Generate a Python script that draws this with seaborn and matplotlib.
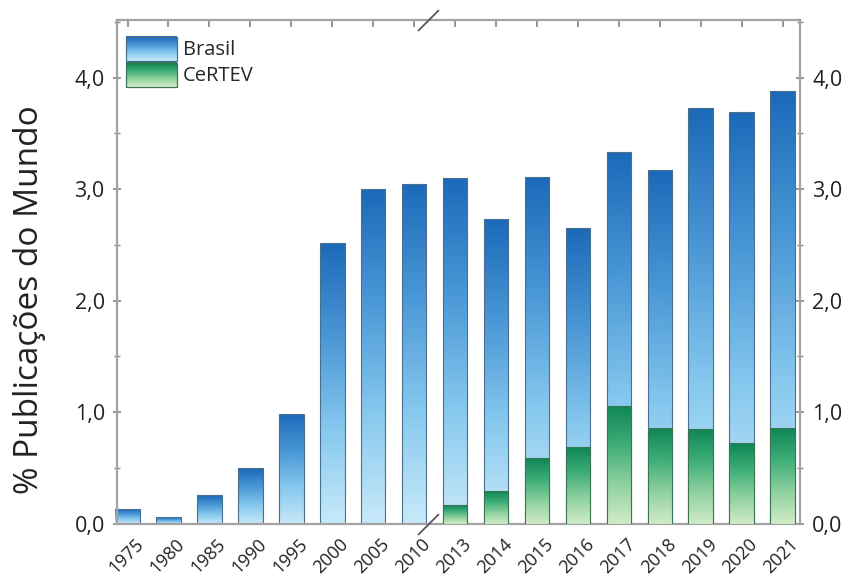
import numpy as np
import pandas as pd
import matplotlib
matplotlib.use('Agg')
import matplotlib.pyplot as plt
import matplotlib.transforms as mtransforms
import seaborn as sns
from matplotlib.colors import LinearSegmentedColormap
from matplotlib.patches import Rectangle
from matplotlib.legend_handler import HandlerBase
from matplotlib.ticker import FuncFormatter, MultipleLocator

# values
years = ['1975', '1980', '1985', '1990', '1995', '2000', '2005', '2010',
         '2013', '2014', '2015', '2016', '2017', '2018', '2019', '2020', '2021']
brasil = [0.13, 0.06, 0.26, 0.50, 0.98, 2.52, 3.00, 3.05,
          3.10, 2.73, 3.11, 2.65, 3.33, 3.17, 3.73, 3.69, 3.88]
certev_years = ['2013', '2014', '2015', '2016', '2017', '2018', '2019', '2020', '2021']
certev = [0.17, 0.29, 0.59, 0.69, 1.06, 0.86, 0.85, 0.72, 0.86]

sns.set_theme(style='white')
plt.rcParams['font.family'] = ['Open Sans', 'DejaVu Sans']

blue_cmap = LinearSegmentedColormap.from_list('azul', ['#c8eaf9', '#86c8ee', '#4a97d6', '#1c69b9'])
green_cmap = LinearSegmentedColormap.from_list('verde', ['#d2ecc8', '#8fd19f', '#3fae78', '#0f8656'])

fig = plt.figure(figsize=(8.5, 5.8), dpi=100)
ax = fig.add_axes([0.138, 0.097, 0.803, 0.869])

df_b = pd.DataFrame({'ano': years, 'valor': brasil})
df_c = pd.DataFrame({'ano': certev_years, 'valor': certev})

sns.barplot(data=df_b, x='ano', y='valor', order=years, width=0.6,
            color='#1c69b9', ax=ax)
n_b = len(ax.patches)
sns.barplot(data=df_c, x='ano', y='valor', order=years, width=0.6,
            color='#0f8656', ax=ax)

grad = np.linspace(0, 1, 256).reshape(-1, 1)


def paint(patch, cmap, edge, z):
    x0, y0 = patch.get_x(), patch.get_y()
    w, h = patch.get_width(), patch.get_height()
    patch.set_facecolor('none')
    patch.set_edgecolor(edge)
    patch.set_linewidth(0.8)
    patch.set_zorder(z + 0.1)
    im = ax.imshow(grad, cmap=cmap, origin='lower', aspect='auto',
                   extent=[x0, x0 + w, y0, y0 + h], zorder=z,
                   interpolation='bilinear')
    im.set_clip_path(patch)


for i, p in enumerate(list(ax.patches)):
    if i < n_b:
        paint(p, blue_cmap, '#4a6f8f', 2)
    else:
        paint(p, green_cmap, '#3a7556', 3)

ax.set_xlim(-0.25, 16.42)
ax.set_ylim(0, 4.52)

# axes styling
for s in ax.spines.values():
    s.set_color('#a3a3a3')
    s.set_linewidth(1.6)

ax.yaxis.set_major_locator(MultipleLocator(1.0))
ax.yaxis.set_minor_locator(MultipleLocator(0.5))
ax.yaxis.set_major_formatter(FuncFormatter(lambda v, p: f'{v:.1f}'.replace('.', ',')))
ax.tick_params(axis='y', which='both', left=True, right=True, labelright=True,
               direction='inout', color='#8a8a8a', labelsize=15.5, labelcolor='#222222')
ax.tick_params(axis='y', which='major', length=6, pad=6)
ax.tick_params(axis='y', which='minor', length=4)
ax.tick_params(axis='x', bottom=True, top=True, direction='in', length=5,
               color='#8a8a8a', labelsize=13, labelcolor='#222222', pad=8)
ax.set_xticks(range(len(years)))
ax.set_xticklabels(years, rotation=45, ha='right', rotation_mode='anchor')
shift = mtransforms.ScaledTranslation(7 / 100, 0, fig.dpi_scale_trans)
for lab in ax.get_xticklabels():
    lab.set_transform(lab.get_transform() + shift)
ax.set_xlabel('')
ax.set_ylabel('% Publicações do Mundo', fontsize=24, color='#222222')
ax.yaxis.set_label_coords(-0.105, 0.444)

# axis break marks
for yb in (0, 1):
    ax.plot([7.35], [yb], marker=[(-1, -1), (1, 1)], markersize=15,
            markeredgewidth=1.3, color='#555555', linestyle='none',
            transform=ax.get_xaxis_transform(), clip_on=False, zorder=6)


class GradHandler(HandlerBase):
    def __init__(self, cmap, edge):
        super().__init__()
        self.cmap = cmap
        self.edge = edge

    def create_artists(self, legend, orig_handle, xdescent, ydescent,
                       width, height, fontsize, trans):
        arts = []
        n = 40
        for k in range(n):
            r = Rectangle((-xdescent, -ydescent + height * k / n), width, height / n + 0.3,
                          facecolor=self.cmap(k / (n - 1)), edgecolor='none',
                          transform=trans)
            arts.append(r)
        arts.append(Rectangle((-xdescent, -ydescent), width, height,
                              facecolor='none', edgecolor=self.edge, linewidth=0.9,
                              transform=trans))
        return arts


h1 = Rectangle((0, 0), 1, 1)
h2 = Rectangle((0, 0), 1, 1)
ax.legend([h1, h2], ['Brasil', 'CeRTEV'],
          handler_map={h1: GradHandler(blue_cmap, '#4a6f8f'),
                       h2: GradHandler(green_cmap, '#3a7556')},
          loc='upper left', bbox_to_anchor=(0.013, 0.966), frameon=False,
          fontsize=14.5, handlelength=2.5, handleheight=1.45, labelspacing=0.1,
          handletextpad=0.3, borderpad=0, borderaxespad=0)

fig.savefig('out.png', dpi=100, facecolor='white')
